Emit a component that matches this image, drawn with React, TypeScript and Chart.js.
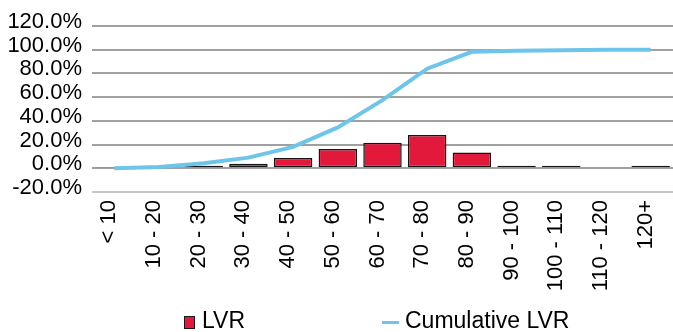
import React, { useEffect, useRef } from "react";
import { Chart, registerables } from "chart.js";

Chart.register(...registerables);

const categories = ["< 10", "10 - 20", "20 - 30", "30 - 40", "40 - 50", "50 - 60", "60 - 70", "70 - 80", "80 - 90", "90 - 100", "100 - 110", "110 - 120", "120+"];
const lvrValues = [0.7, 1.0, 2.2, 3.8, 8.7, 16.3, 21.5, 28.0, 13.4, 2.1, 2.1, 0, 2.1];
const cumulativeValues = [0, 1.0, 4.3, 9.0, 18.0, 34.5, 57.5, 84.0, 98.2, 99.2, 99.6, 100, 100];
const yMin = -20;
const yMax = 120;
const yStep = 20;

const FONT = "'Liberation Sans', Arial, sans-serif";
const BAR_COLOR = "#E3193C";
const LINE_COLOR = "#6EC5EA";

export default function App() {
  const canvasRef = useRef<HTMLCanvasElement | null>(null);

  useEffect(() => {
    document.body.style.margin = "0";
    const ctx = canvasRef.current!.getContext("2d")!;
    const chart = new Chart(ctx, {
      type: "bar",
      data: {
        labels: categories,
        datasets: [
          {
            type: "line",
            label: "Cumulative LVR",
            data: cumulativeValues,
            borderColor: LINE_COLOR,
            backgroundColor: LINE_COLOR,
            borderWidth: 4,
            pointRadius: 0,
            tension: 0,
            order: 0,
          },
          {
            type: "bar",
            label: "LVR",
            data: lvrValues,
            backgroundColor: BAR_COLOR,
            borderColor: "#141414",
            borderWidth: 1.5,
            borderSkipped: false,
            barPercentage: 0.86,
            categoryPercentage: 1,
            order: 1,
          },
        ],
      },
      options: {
        animation: false,
        responsive: false,
        maintainAspectRatio: false,
        layout: { padding: { top: 26, right: 0, left: 0, bottom: 0 } },
        plugins: {
          legend: { display: false },
          tooltip: { enabled: false },
        },
        scales: {
          x: {
            offset: true,
            grid: { display: false, drawTicks: false },
            border: { display: false },
            ticks: {
              minRotation: 90,
              maxRotation: 90,
              autoSkip: false,
              padding: 8,
              labelOffset: -5,
              color: "#000",
              font: { family: FONT, size: 22 },
            },
            afterFit: (scale: any) => {
              scale.height = 108;
              scale.paddingLeft = 0;
              scale.paddingRight = 0;
            },
          },
          y: {
            min: yMin,
            max: yMax,
            grid: {
              drawTicks: false,
              lineWidth: 2,
              color: (c: any) => (c.tick && c.tick.value === yMin ? "#C4C4C4" : "#A0A0A0"),
            },
            border: { display: false },
            ticks: {
              stepSize: yStep,
              autoSkip: false,
              padding: 10,
              labelOffset: -4,
              color: "#000",
              font: { family: FONT, size: 22 },
              callback: (v: any) => Number(v).toFixed(1) + "%",
            },
            afterFit: (scale: any) => {
              scale.width = 92;
              scale.paddingTop = 0;
              scale.paddingBottom = 0;
            },
          },
        },
      },
    });
    return () => chart.destroy();
  }, []);

  const textStyle: React.CSSProperties = {
    position: "absolute",
    fontFamily: FONT,
    fontSize: 23,
    lineHeight: "23px",
    color: "#000",
    whiteSpace: "nowrap",
  };

  return (
    <div style={{ position: "fixed", left: 0, top: 0, width: 673, height: 332, background: "#fff" }}>
      <canvas ref={canvasRef} width={673} height={300} style={{ display: "block", width: 673, height: 300 }} />
      <div
        style={{
          position: "absolute",
          left: 184,
          top: 316,
          width: 9,
          height: 11,
          background: BAR_COLOR,
          border: "1px solid #1a1a1a",
        }}
      />
      <span style={{ ...textStyle, left: 202, top: 309 }}>LVR</span>
      <div style={{ position: "absolute", left: 382, top: 321, width: 17, height: 3, background: LINE_COLOR }} />
      <span style={{ ...textStyle, left: 405, top: 309 }}>Cumulative LVR</span>
    </div>
  );
}
